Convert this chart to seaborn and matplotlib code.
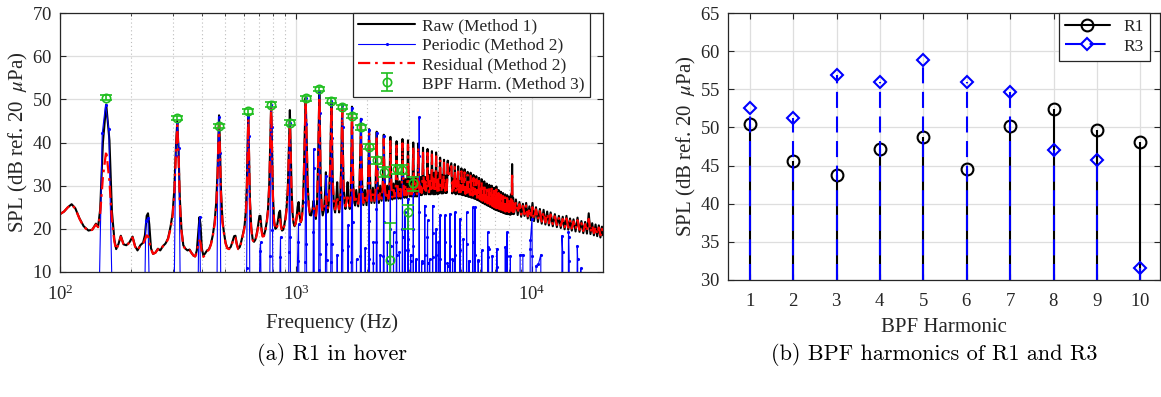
import matplotlib
matplotlib.use("Agg")
import matplotlib.pyplot as plt
from matplotlib.lines import Line2D
import pandas as pd
import seaborn as sns

# ─────────────────────────────────────────
# data
# ─────────────────────────────────────────
BPF = 157.0  # blade passing frequency (Hz)

# spectrum, 100 Hz - 1.16 kHz
low_f = [100, 104, 108, 112, 116, 121, 126, 132, 137, 142,
         145, 148, 152, 157, 162, 166, 170, 173, 177, 181,
         186, 191, 197, 203, 208, 213, 219, 225, 229, 233,
         236, 239, 243, 248, 254, 260, 266, 273, 280, 287,
         294, 300, 305, 310, 314, 318, 322, 327, 333, 340,
         347, 354, 361, 368, 374, 380, 385, 390, 394, 399,
         405, 412, 420, 428, 436, 444, 452, 459, 465, 469,
         472, 476, 481, 488, 495, 503, 511, 520, 529, 538,
         547, 554, 561, 569, 578, 587, 596, 605, 613, 619,
         624, 628, 632, 638, 646, 655, 664, 673, 682, 691,
         700, 707, 714, 722, 731, 741, 751, 761, 771, 779,
         785, 791, 799, 808, 818, 828, 838, 848, 856, 864,
         873, 883, 893, 903, 913, 924, 934, 942, 949, 957,
         966, 976, 986, 996, 1006, 1016, 1026, 1037, 1048, 1058,
         1068, 1078, 1089, 1099, 1109, 1120, 1132, 1145, 1160]
low_raw = [23.4, 24.0, 25.0, 25.7, 24.8, 22.4, 20.6, 19.6, 19.8, 21.2,
           20.4, 24.5, 40.0, 48.8, 40.5, 24.0, 17.5, 15.3, 16.5, 18.4,
           16.4, 16.2, 16.9, 18.2, 16.0, 15.0, 16.2, 16.8, 18.5, 23.0,
           23.6, 21.0, 15.5, 14.2, 14.5, 15.4, 15.0, 16.0, 16.6, 17.8,
           20.5, 23.5, 29.0, 39.0, 45.0, 38.0, 27.0, 20.0, 16.2, 15.4,
           15.0, 15.2, 14.4, 13.8, 13.6, 15.0, 19.0, 22.7, 21.0, 15.5,
           13.8, 14.3, 15.0, 15.3, 16.5, 18.5, 21.5, 26.0, 33.0, 41.0,
           46.3, 40.0, 29.0, 22.0, 19.2, 16.8, 15.6, 15.4, 15.8, 17.0,
           18.3, 18.4, 16.6, 15.4, 15.8, 17.2, 18.8, 20.5, 24.0, 30.0,
           40.0, 46.5, 39.0, 27.0, 20.5, 17.6, 17.0, 17.5, 19.0, 20.8,
           23.0, 23.0, 20.2, 18.4, 18.4, 19.6, 21.5, 24.5, 31.0, 41.0,
           49.2, 40.0, 27.5, 21.8, 20.0, 20.3, 21.8, 23.8, 24.2, 21.0,
           19.6, 19.8, 21.0, 22.6, 25.0, 30.0, 40.0, 47.5, 40.0, 30.0,
           24.0, 21.4, 20.6, 21.2, 22.8, 25.0, 26.2, 23.0, 21.5, 22.2,
           25.0, 31.0, 42.0, 50.4, 42.0, 31.0, 25.5, 23.2, 23.1]
low_res = [23.4, 24.0, 25.0, 25.6, 24.7, 22.3, 20.5, 19.5, 19.8, 21.0,
           20.4, 23.5, 32.0, 38.1, 31.0, 22.0, 17.0, 15.2, 16.4, 18.2,
           16.3, 16.1, 16.8, 18.0, 15.9, 15.0, 16.1, 16.5, 17.5, 18.5,
           18.3, 17.0, 15.3, 14.2, 14.5, 15.3, 15.0, 16.0, 16.5, 17.6,
           20.0, 23.0, 28.0, 37.5, 44.0, 36.5, 26.0, 19.5, 16.0, 15.3,
           15.0, 15.1, 14.4, 13.8, 13.6, 14.5, 16.5, 17.3, 16.8, 14.5,
           13.5, 14.0, 14.8, 15.2, 16.3, 18.3, 21.0, 25.0, 31.5, 40.0,
           44.5, 38.5, 28.0, 21.5, 19.0, 16.6, 15.5, 15.3, 15.7, 16.8,
           18.0, 17.9, 16.4, 15.3, 15.6, 17.0, 18.6, 20.2, 23.0, 28.5,
           38.5, 45.4, 37.5, 26.0, 20.0, 17.4, 16.9, 17.3, 18.6, 20.2,
           21.5, 21.8, 19.6, 18.2, 18.3, 19.4, 21.2, 24.0, 30.0, 40.0,
           48.1, 39.0, 27.0, 21.5, 19.9, 20.2, 21.0, 22.0, 22.2, 20.5,
           19.5, 19.7, 20.8, 22.3, 24.5, 29.0, 38.5, 44.2, 38.0, 29.0,
           23.8, 21.4, 20.8, 21.2, 22.4, 23.8, 24.2, 22.6, 21.6, 22.3,
           24.8, 30.5, 41.0, 49.5, 41.0, 30.5, 25.5, 23.8, 24.0]

# spectrum, 1.17 kHz - 4.4 kHz (one row per harmonic)
mid_f = [1175, 1188, 1200, 1214, 1228, 1240, 1250, 1256, 1263, 1272, 1285, 1298,
         1315, 1330, 1339, 1348, 1360, 1375, 1395, 1406, 1413, 1420, 1432, 1450,
         1465, 1482, 1495, 1508, 1524, 1540, 1555, 1564, 1570, 1577, 1590, 1605,
         1620, 1640, 1655, 1670, 1690, 1706, 1718, 1727, 1735, 1750, 1768,
         1782, 1800, 1818, 1835, 1855, 1872, 1884, 1894, 1910,
         1930, 1960, 1990, 2012, 2030, 2041, 2052, 2068,
         2088, 2118, 2150, 2172, 2188, 2198, 2208, 2225,
         2245, 2275, 2305, 2330, 2345, 2355, 2366, 2383,
         2405, 2435, 2465, 2490, 2503, 2512, 2522, 2540,
         2562, 2592, 2625, 2650, 2660, 2669, 2679, 2697,
         2720, 2750, 2782, 2808, 2818, 2826, 2836, 2855,
         2878, 2908, 2940, 2965, 2975, 2983, 2993, 3012,
         3035, 3065, 3098, 3122, 3132, 3140, 3150, 3170,
         3192, 3222, 3255, 3279, 3289, 3297, 3307, 3327,
         3350, 3378, 3410, 3436, 3446, 3454, 3464, 3484,
         3507, 3535, 3565, 3593, 3603, 3611, 3621, 3640,
         3662, 3692, 3722, 3750, 3760, 3768, 3778, 3797,
         3820, 3848, 3878, 3907, 3917, 3925, 3935, 3955,
         3978, 4005, 4035, 4064, 4074, 4082, 4092, 4112,
         4135, 4163, 4193, 4230, 4239, 4250,
         4290, 4320, 4350, 4388, 4396, 4408]
mid_raw = [24.5, 26.5, 24.0, 22.3, 26.0, 35.0, 46.0, 51.9, 44.0, 32.0, 25.0, 23.1,
           24.5, 29.0, 33.1, 27.0, 23.8, 25.5, 34.0, 43.0, 49.6, 42.0, 31.0, 25.0,
           23.8, 27.0, 30.8, 26.0, 23.8, 27.0, 35.0, 43.0, 48.8, 41.0, 31.0, 26.0,
           24.6, 27.5, 30.8, 26.5, 24.6, 28.0, 38.0, 48.3, 40.0, 30.0, 26.0,
           25.4, 29.0, 27.0, 25.2, 28.5, 37.0, 45.5, 38.0, 29.5,
           25.5, 29.0, 25.5, 28.5, 36.0, 43.1, 35.0, 29.0,
           26.0, 29.5, 26.0, 29.0, 36.0, 42.5, 35.0, 29.0,
           26.0, 30.0, 26.5, 29.5, 36.0, 41.8, 35.0, 29.5,
           26.5, 30.0, 26.5, 30.0, 36.0, 41.3, 35.0, 29.5,
           26.8, 30.5, 27.0, 30.5, 35.5, 40.3, 34.5, 30.0,
           27.0, 31.0, 27.0, 31.0, 36.0, 40.8, 35.0, 30.5,
           27.2, 31.5, 27.2, 31.5, 36.0, 40.5, 35.0, 30.5,
           27.5, 31.5, 27.5, 31.5, 35.5, 40.0, 34.5, 30.5,
           27.5, 32.0, 27.5, 32.0, 35.5, 39.8, 34.5, 31.0,
           27.8, 32.0, 27.8, 32.0, 35.0, 38.8, 34.0, 30.5,
           28.0, 32.0, 28.0, 32.0, 35.0, 38.5, 34.0, 30.5,
           28.0, 32.5, 28.0, 32.0, 34.8, 38.0, 34.0, 30.5,
           28.0, 33.0, 28.0, 32.0, 34.5, 37.7, 33.8, 30.5,
           28.0, 33.0, 28.2, 31.8, 34.0, 36.5, 33.2, 30.3,
           28.2, 32.5, 28.2, 34.0, 36.0, 32.8,
           28.3, 32.3, 28.3, 33.5, 35.8, 32.5]
mid_res = [24.3, 24.8, 24.0, 23.0, 25.5, 34.0, 45.0, 50.5, 43.0, 31.5, 25.2, 24.0,
           24.8, 26.5, 27.5, 25.5, 24.5, 25.5, 33.0, 42.0, 48.5, 41.0, 30.5, 25.4,
           24.5, 26.2, 27.5, 25.6, 24.5, 26.5, 34.0, 42.0, 47.5, 40.0, 30.5, 26.2,
           25.2, 26.5, 28.0, 26.0, 25.2, 27.5, 37.0, 47.0, 39.0, 29.5, 26.3,
           26.0, 27.2, 26.5, 25.8, 28.0, 36.0, 44.0, 37.0, 29.0,
           26.0, 27.5, 26.0, 28.0, 35.0, 42.0, 34.0, 28.5,
           26.5, 28.0, 26.5, 28.5, 35.0, 41.5, 34.0, 28.8,
           26.8, 28.5, 27.0, 29.0, 35.0, 40.8, 34.0, 29.2,
           27.0, 28.5, 27.0, 29.5, 35.0, 40.3, 34.0, 29.3,
           27.3, 29.0, 27.5, 30.0, 34.5, 39.3, 33.5, 29.8,
           27.5, 29.5, 27.5, 30.5, 35.0, 39.8, 34.0, 30.2,
           27.8, 30.0, 27.8, 31.0, 35.0, 39.5, 34.0, 30.3,
           28.0, 30.2, 28.0, 31.0, 34.5, 39.0, 33.5, 30.3,
           28.0, 30.5, 28.0, 31.5, 34.5, 38.8, 33.5, 30.5,
           28.3, 30.5, 28.3, 31.5, 34.2, 38.0, 33.3, 30.3,
           28.5, 31.0, 28.5, 31.5, 34.2, 37.6, 33.3, 30.3,
           28.5, 31.0, 28.5, 31.5, 34.0, 37.2, 33.3, 30.3,
           28.6, 31.5, 28.6, 31.5, 34.0, 36.8, 33.2, 30.3,
           28.6, 31.5, 28.7, 31.3, 33.4, 35.8, 32.6, 30.1,
           28.7, 31.3, 28.8, 33.4, 35.3, 32.2,
           28.8, 31.2, 28.8, 33.0, 35.0, 32.0]

# spectrum, 4.5 kHz - 8.4 kHz
hi_f = [4553, 4593, 4633, 4673,
        4710, 4750, 4790, 4830,
        4867, 4907, 4947, 4987,
        5024, 5064, 5104, 5144,
        5181, 5221, 5261, 5301,
        5338, 5378, 5418, 5458,
        5495, 5535, 5575, 5615,
        5652, 5692, 5732, 5772,
        5809, 5849, 5889, 5929,
        5966, 6006, 6046, 6086,
        6123, 6163, 6203, 6243,
        6280, 6320, 6360, 6400,
        6437, 6477, 6517, 6557,
        6594, 6634, 6674, 6714,
        6751, 6791, 6831, 6871,
        6908, 6948, 6988, 7028,
        7065, 7105, 7145, 7185,
        7222, 7262, 7302, 7342,
        7379, 7419, 7459, 7499,
        7536, 7576, 7616, 7656,
        7693, 7733, 7773, 7813,
        7850, 7890, 7930, 7970,
        8007, 8047, 8087, 8127,
        8164, 8200, 8225, 8240, 8255, 8290, 8321, 8360]
hi_raw = [35.2, 28.2, 31.5, 28.4,
          35.0, 28.0, 31.5, 28.2,
          34.5, 28.0, 31.0, 28.0,
          34.0, 27.8, 30.8, 27.8,
          33.8, 27.6, 30.5, 27.6,
          33.2, 27.4, 30.3, 27.4,
          33.0, 27.2, 30.0, 27.2,
          32.5, 27.0, 29.8, 26.9,
          32.2, 26.7, 29.5, 26.6,
          31.8, 26.4, 29.2, 26.2,
          31.5, 26.0, 28.8, 25.9,
          31.0, 25.7, 28.5, 25.6,
          30.5, 25.4, 28.0, 25.3,
          30.2, 25.1, 27.8, 25.0,
          30.0, 24.8, 27.5, 24.7,
          29.5, 24.5, 27.2, 24.4,
          29.8, 24.3, 27.0, 24.2,
          29.0, 24.1, 26.8, 24.0,
          28.6, 23.9, 26.5, 23.8,
          28.3, 23.7, 26.2, 23.6,
          28.0, 23.5, 26.0, 23.5,
          27.8, 23.4, 25.8, 23.4,
          27.5, 23.3, 25.5, 23.3,
          28.0, 24.0, 30.5, 35.0, 29.0, 23.5, 27.2, 23.4]
hi_res = [34.5, 28.7, 31.0, 28.9,
          34.3, 28.5, 31.0, 28.7,
          33.8, 28.5, 30.5, 28.5,
          33.3, 28.3, 30.3, 28.3,
          33.1, 28.1, 30.0, 28.1,
          32.5, 27.9, 29.8, 27.9,
          32.3, 27.7, 29.5, 27.7,
          31.8, 27.5, 29.3, 27.4,
          31.5, 27.2, 29.0, 27.1,
          31.1, 26.9, 28.7, 26.7,
          30.8, 26.5, 28.3, 26.4,
          30.3, 26.2, 28.0, 26.1,
          29.8, 25.9, 27.5, 25.8,
          29.5, 25.6, 27.3, 25.5,
          29.3, 25.3, 27.0, 25.2,
          28.8, 25.0, 26.7, 24.9,
          29.1, 24.8, 26.5, 24.7,
          28.3, 24.6, 26.3, 24.5,
          27.9, 24.4, 26.0, 24.3,
          27.6, 24.2, 25.7, 24.1,
          27.3, 24.0, 25.5, 24.0,
          27.1, 23.9, 25.3, 23.9,
          26.8, 23.8, 25.0, 23.8,
          27.3, 24.3, 29.5, 33.0, 28.0, 24.0, 26.6, 23.9]

# spectrum, broadband tail 8.4 kHz - 20 kHz
noise_f = [8400, 8550, 8700, 8850, 9000, 9150, 9300, 9450, 9600, 9750,
           9900, 10050, 10200, 10400, 10600, 10800, 11000, 11200, 11400, 11600,
           11800, 12000, 12250, 12500, 12750, 13000, 13250, 13500, 13750, 14000,
           14250, 14500, 14750, 15000, 15300, 15600, 15900, 16200, 16500, 16800,
           17100, 17400, 17700, 18000, 18300, 18600, 18900, 19200, 19500, 19800,
           20000]
noise_raw = [23.5, 26.8, 23.2, 26.2, 22.8, 25.8, 23.0, 26.0, 22.4, 25.2,
             22.0, 26.0, 21.8, 25.0, 21.6, 24.6, 21.2, 24.4, 21.0, 24.0,
             20.8, 23.8, 20.6, 23.4, 20.4, 23.0, 20.2, 22.8, 19.9, 23.0,
             19.8, 22.4, 19.6, 22.2, 19.4, 22.6, 19.3, 21.8, 19.0, 21.6,
             18.9, 23.6, 18.8, 21.3, 18.5, 21.0, 18.3, 20.8, 18.0, 20.5,
             18.5]
noise_res = [24.0, 26.2, 23.7, 25.7, 23.3, 25.3, 23.4, 25.4, 22.9, 24.7,
             22.5, 25.0, 22.3, 24.5, 22.1, 24.1, 21.7, 23.9, 21.5, 23.5,
             21.3, 23.3, 21.1, 22.9, 20.9, 22.5, 20.7, 22.3, 20.4, 22.4,
             20.3, 21.9, 20.1, 21.7, 19.9, 22.0, 19.8, 21.3, 19.5, 21.1,
             19.4, 22.3, 19.3, 20.8, 19.0, 20.5, 18.8, 20.3, 18.5, 20.0,
             18.9]

# periodic part (Method 2): tonal bins, 0 = below the axis floor
per_f = [146, 151, 156, 161, 167,
         228, 231, 236, 240,
         304, 309, 314, 319, 324,
         384, 387, 391, 395,
         462, 466, 471, 476, 481,
         614, 618, 623, 628, 633, 638,
         698, 703, 708, 713,
         772, 776, 780, 785, 790, 795, 800,
         851, 856, 860, 864,
         929, 933, 937, 942, 946, 950,
         1010, 1015, 1020, 1025, 1030,
         1088, 1092, 1096, 1099, 1104, 1108, 1112,
         1180, 1184, 1188, 1192, 1196,
         1244, 1248, 1252, 1256, 1261, 1265, 1270,
         1330, 1335, 1339, 1344, 1349, 1354,
         1400, 1404, 1408, 1413, 1418, 1422, 1427,
         1490, 1495, 1500,
         1556, 1560, 1565, 1570, 1575, 1580,
         1655, 1660, 1664, 1669,
         1712, 1717, 1722, 1727, 1732, 1737, 1742,
         1800, 1805, 1810,
         1870, 1874, 1879, 1884, 1889, 1894,
         1960, 1965, 1970,
         2028, 2032, 2036, 2041, 2046, 2051,
         2120, 2125, 2130, 2135,
         2185, 2189, 2193, 2198, 2203, 2208,
         2270, 2275, 2280,
         2342, 2346, 2350, 2355, 2360, 2365,
         2430, 2435, 2440, 2445,
         2500, 2505, 2512, 2517, 2522,
         2585, 2590, 2595,
         2655, 2660, 2669, 2675, 2680,
         2740, 2745, 2750,
         2815, 2820, 2826, 2832, 2837,
         2890, 2895, 2900, 2905,
         2975, 2980, 2985, 2990, 2995,
         3055, 3060, 3065, 3070,
         3132, 3136, 3140, 3145, 3150,
         3220, 3225, 3230,
         3315, 3320, 3324, 3327, 3332, 3337,
         3400, 3405, 3410, 3415,
         3505, 3510, 3516, 3522, 3527,
         3600, 3605, 3611, 3617, 3622,
         3680, 3685, 3690,
         3785, 3790, 3795, 3800, 3805,
         3915, 3920, 3925, 3930,
         4005, 4010, 4015,
         4075, 4080, 4085, 4090,
         4270, 4276, 4282, 4288,
         4380, 4385, 4390, 4395,
         4485, 4490, 4495, 4500,
         4600, 4605, 4615, 4620,
         4710, 4716, 4722, 4728,
         4945, 4952, 4958, 4964,
         5110, 5117, 5124,
         5277, 5284, 5290, 5297,
         5400, 5405, 5420, 5425,
         5600, 5610, 5618, 5625,
         5730, 5737, 5745, 5752,
         5900, 5910, 5925, 5935,
         6120, 6125, 6135,
         6480, 6490, 6500, 6510, 6520,
         6540, 6545, 6555,
         6780, 6790, 6800,
         7090, 7100, 7108, 7115,
         7700, 7710, 7720,
         7825, 7834, 7842, 7850,
         8090, 8100, 8110,
         8900, 8910, 9150, 9160,
         9820, 9830, 9850, 10000, 10020, 10030,
         10400, 10410, 10650, 10900, 10910,
         13380, 13400, 13500, 13520,
         14250, 14280, 14320, 14380, 14400,
         15500, 15560, 15620, 15650,
         16080, 16100, 16120]
per_db = [0, 42.1, 48.7, 43.1, 0,
          0, 21.9, 22.5, 0,
          0, 36.9, 44.5, 38.8, 0,
          0, 20.1, 22.7, 0,
          0, 34.6, 45.8, 37.5, 0,
          0, 10.9, 37.3, 46.0, 41.4, 0,
          0, 14.8, 16.9, 0,
          0, 13.7, 38.1, 48.8, 43.5, 19.8, 0,
          0, 13.5, 18.1, 0,
          0, 14.7, 39.6, 44.6, 18.1, 0,
          0, 12.6, 16.9, 21.1, 0,
          0, 12.4, 26.2, 50.2, 44.2, 16.5, 0,
          0, 19.2, 38.5, 34.2, 0,
          0, 10.4, 36.9, 52.0, 46.9, 14.2, 0,
          0, 16.5, 32.3, 28.1, 12.7, 0,
          0, 12.3, 31.5, 49.6, 41.1, 16.5, 0,
          0, 14.0, 0,
          0, 15.0, 27.7, 48.8, 43.5, 0,
          0, 16.1, 20.8, 0,
          0, 12.3, 33.8, 48.1, 43.5, 21.5, 0,
          0, 13.0, 0,
          0, 13.8, 28.5, 45.5, 39.2, 0,
          0, 15.5, 0,
          0, 13.1, 21.9, 43.0, 35.4, 0,
          0, 12.0, 17.0, 0,
          0, 16.9, 24.6, 42.3, 33.8, 0,
          0, 14.0, 0,
          0, 13.8, 21.5, 41.5, 31.0, 0,
          0, 12.5, 17.0, 0,
          0, 20.0, 31.5, 16.0, 0,
          0, 19.2, 0,
          0, 17.0, 29.2, 14.0, 0,
          0, 14.6, 0,
          0, 20.0, 32.3, 18.0, 0,
          0, 23.8, 15.0, 0,
          0, 15.0, 27.0, 17.7, 0,
          0, 14.0, 12.5, 0,
          0, 16.0, 28.0, 20.0, 0,
          0, 13.0, 0,
          0, 23.8, 30.4, 45.8, 36.9, 0,
          0, 12.0, 12.5, 0,
          0, 23.1, 25.4, 14.0, 0,
          0, 18.0, 22.0, 12.0, 0,
          0, 13.0, 0,
          0, 19.0, 25.4, 13.5, 0,
          0, 14.0, 20.0, 0,
          0, 16.9, 0,
          0, 23.1, 13.0, 0,
          0, 23.1, 17.0, 0,
          0, 12.0, 11.5, 0,
          0, 23.5, 16.0, 0,
          0, 13.0, 12.8, 0,
          0, 23.8, 14.0, 0,
          0, 22.3, 15.0, 0,
          0, 17.7, 0,
          0, 23.8, 16.5, 0,
          0, 12.5, 12.5, 0,
          0, 25.0, 16.9, 0,
          0, 25.0, 14.0, 0,
          0, 12.5, 12.8, 0,
          0, 15.0, 0,
          0, 19.2, 15.8, 13.5, 0,
          0, 15.4, 0,
          0, 13.8, 0,
          0, 15.4, 11.2, 0,
          0, 15.8, 0,
          0, 19.2, 13.8, 0,
          0, 13.8, 0,
          0, 14.0, 14.0, 0,
          0, 15.4, 17.3, 22.3, 13.8, 0,
          0, 11.5, 11.8, 14.0, 0,
          0, 18.4, 14.6, 0,
          0, 19.2, 18.1, 12.5, 0,
          0, 16.1, 13.0, 0,
          0, 10.9, 0]

# BPF harmonics (Method 3) with error bars
harm_n = [1, 2, 3, 4, 5, 6, 7, 8, 9, 10, 11, 12, 13, 14, 15, 16, 17, 18, 19, 20]
harm_db = [50.4, 45.6, 43.8, 47.2, 48.8, 44.6, 50.2, 52.4, 49.7, 48.2,
           46.1, 43.5, 39.0, 35.9, 33.2, 12.7, 33.8, 33.7, 24.0, 30.6]
harm_lo = [0.5, 0.5, 0.5, 0.5, 0.5, 0.5, 0.5, 0.5, 0.5, 0.5,
           0.5, 0.5, 0.6, 0.8, 1.3, 4.0, 1.0, 1.0, 4.0, 1.8]
harm_hi = [0.5, 0.5, 0.5, 0.5, 0.5, 0.5, 0.5, 0.5, 0.5, 0.5,
           0.5, 0.5, 0.6, 0.8, 1.2, 8.6, 1.0, 1.0, 1.6, 1.4]

# right panel: BPF harmonic levels of R1 and R3
bpf_order = [1, 2, 3, 4, 5, 6, 7, 8, 9, 10]
r1_db = [50.4, 45.6, 43.8, 47.2, 48.8, 44.6, 50.2, 52.4, 49.7, 48.1]
r3_db = [52.6, 51.3, 56.9, 55.9, 58.8, 55.9, 54.6, 47.0, 45.7, 31.6]

# ─────────────────────────────────────────
# styling
# ─────────────────────────────────────────
sns.set_theme(style="ticks")
plt.rcParams.update({
    "font.family": ["Liberation Serif", "DejaVu Serif"],
    "mathtext.fontset": "stix",
    "axes.formatter.use_mathtext": True,
    "axes.edgecolor": "#262626",
    "axes.linewidth": 0.9,
    "xtick.color": "#262626",
    "ytick.color": "#262626",
    "xtick.labelcolor": "#262626",
    "ytick.labelcolor": "#262626",
    "text.color": "#262626",
    "axes.labelcolor": "#262626",
})

TICK_FS = 13.5
LABEL_FS = 15
LEG_FS = 12.5
CAP_FS = 16
GREEN = "#1fbf1f"
YLABEL = "SPL (dB ref. 20 $\\;\\mu$Pa)"


def matlab_axes(ax):
    ax.tick_params(which="both", direction="in", top=True, right=True,
                   labelsize=TICK_FS)
    ax.tick_params(axis="x", which="both", pad=9)
    ax.tick_params(axis="y", which="both", pad=6)
    ax.tick_params(which="major", length=4.5, width=0.8)
    ax.tick_params(which="minor", length=2.5, width=0.6)
    for s in ax.spines.values():
        s.set_visible(True)
        s.set_zorder(5)
    ax.set_axisbelow(True)


fig = plt.figure(figsize=(11.61, 3.97), dpi=100)

# ─────────────────────────────────────────
# (a) spectrum of R1 in hover
# ─────────────────────────────────────────
spec = pd.DataFrame({
    "f": low_f + mid_f + hi_f + noise_f,
    "raw": low_raw + mid_raw + hi_raw + noise_raw,
    "res": low_res + mid_res + hi_res + noise_res,
})
per = pd.DataFrame({"f": per_f, "db": per_db})
harm_f = [n * BPF for n in harm_n]

ax1 = fig.add_axes([60 / 1161, 125 / 397, 543 / 1161, 259 / 397])
ax1.set_xscale("log")

sns.lineplot(data=spec, x="f", y="raw", sort=False, estimator=None,
             color="black", lw=1.5, label="Raw (Method 1)", ax=ax1)
sns.lineplot(data=per, x="f", y="db", sort=False, estimator=None,
             color="#0000ff", lw=0.8, marker=".", markersize=4.5,
             markeredgewidth=0, label="Periodic (Method 2)", ax=ax1)
sns.lineplot(data=spec, x="f", y="res", sort=False, estimator=None,
             color="#ff0000", lw=1.6, ls=(0, (5.5, 2.2, 1.2, 2.2)),
             label="Residual (Method 2)", ax=ax1)
ax1.errorbar(harm_f, harm_db, yerr=[harm_lo, harm_hi], fmt="o",
             mfc="none", mec=GREEN, ecolor=GREEN, ms=6, mew=1.2,
             elinewidth=1.2, capsize=4, capthick=1.2, zorder=4,
             label="BPF Harm. (Method 3)")

ax1.set_xlim(100, 20000)
ax1.set_ylim(10, 70)
ax1.set_yticks(range(10, 71, 10))
ax1.grid(which="major", color="#dedede", lw=0.9)
ax1.grid(which="minor", axis="x", color="#bcbcbc", lw=0.8, ls=(0, (1, 2.5)))
matlab_axes(ax1)
ax1.set_xlabel("Frequency (Hz)", fontsize=LABEL_FS, labelpad=7)
ax1.set_ylabel(YLABEL, fontsize=LABEL_FS, labelpad=1)

leg1 = ax1.legend(loc="upper right", bbox_to_anchor=(0.976, 1.0),
                  borderaxespad=0, fontsize=LEG_FS, frameon=True,
                  fancybox=False, framealpha=1, edgecolor="#262626",
                  handlelength=3.3, handletextpad=0.4, labelspacing=0.18,
                  borderpad=0.3)
leg1.get_frame().set_linewidth(0.9)
leg1.set_zorder(10)

# ─────────────────────────────────────────
# (b) BPF harmonics of R1 and R3
# ─────────────────────────────────────────
ax2 = fig.add_axes([728 / 1161, 117 / 397, 432 / 1161, 267 / 397])
R3_DASH = (0, (7.7, 4.1))

ax2.vlines(bpf_order, 30, r1_db, color="black", lw=1.5, zorder=2)
sns.lineplot(x=bpf_order, y=r1_db, ls="", marker="o", markersize=8.5,
             markerfacecolor="none", markeredgecolor="black",
             markeredgewidth=1.5, ax=ax2, zorder=3)
ax2.vlines(bpf_order, 30, r3_db, color="#0000ff", lw=1.5,
           linestyles=[R3_DASH], zorder=3)
sns.lineplot(x=bpf_order, y=r3_db, ls="", marker="D", markersize=6.5,
             markerfacecolor="none", markeredgecolor="#0000ff",
             markeredgewidth=1.5, ax=ax2, zorder=4)

ax2.set_xlim(0.5, 10.45)
ax2.set_ylim(30, 65)
ax2.set_xticks(bpf_order)
ax2.set_yticks(range(30, 66, 5))
ax2.grid(which="major", color="#dedede", lw=0.9)
matlab_axes(ax2)
ax2.set_xlabel("BPF Harmonic", fontsize=LABEL_FS, labelpad=6)
ax2.set_ylabel(YLABEL, fontsize=LABEL_FS, labelpad=1)

handles = [
    Line2D([], [], color="black", lw=1.5, marker="o", ms=8.5,
           mfc="none", mec="black", mew=1.5),
    Line2D([], [], color="#0000ff", lw=1.5, ls=R3_DASH, marker="D", ms=6.5,
           mfc="none", mec="#0000ff", mew=1.5),
]
leg2 = ax2.legend(handles, ["R1", "R3"], loc="upper right",
                  bbox_to_anchor=(0.977, 1.0), borderaxespad=0,
                  fontsize=LEG_FS, frameon=True, fancybox=False,
                  framealpha=1, edgecolor="#262626", handlelength=2.6,
                  handletextpad=0.8, labelspacing=0.18, borderpad=0.35)
leg2.get_frame().set_linewidth(0.9)

# captions (LaTeX document font)
fig.text(0.286, 1 - 354 / 397, "(a) R1 in hover", ha="center", va="center",
         fontsize=CAP_FS, family=["cmr10", "DejaVu Serif"], color="black")
fig.text(0.8045, 1 - 354 / 397, "(b) BPF harmonics of R1 and R3",
         ha="center", va="center", fontsize=CAP_FS,
         family=["cmr10", "DejaVu Serif"], color="black")

fig.savefig("out.png", dpi=100)
